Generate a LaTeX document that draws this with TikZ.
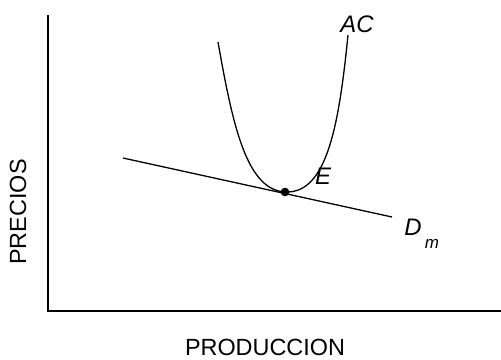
\documentclass[tikz,border=0pt]{standalone}
\usepackage{fontspec}
\setmainfont{Liberation Sans}
\begin{document}
\begin{tikzpicture}[x=1bp,y=-1bp,
  axis/.style={line width=1.6bp},
  curve/.style={line width=1.3bp},
  lbl/.style={inner sep=0pt,font=\fontsize{24}{27}\selectfont\itshape},
  axlbl/.style={inner sep=0pt,font=\fontsize{23.5}{27}\selectfont}]
\useasboundingbox (0,0) rectangle (501,359);
\coordinate (top) at (48,15);
\coordinate (orig) at (48,311);
\coordinate (xend) at (501,311);
\draw[axis] (top) -- (orig) -- (xend);
\coordinate (d1) at (123,158);
\coordinate (d2) at (392,217);
\draw[curve] (d1) -- (d2);
\coordinate (acl) at (218,42);
\coordinate (acmin) at (287,192);
\coordinate (acr) at (348,35);
\draw[curve] (acl) .. controls (233,127) and (247,192) .. (acmin)
  .. controls (327,192) and (339,125) .. (acr);
\fill (285,192) circle (4.3);
\node[lbl] (AC) at (357,24) {AC};
\node[lbl] (E) at (323,176) {E};
\node[lbl] (D) at (413,227) {D};
\node[inner sep=0pt,font=\fontsize{17}{20}\selectfont\itshape] (m) at (432,244) {m};
\node[axlbl,anchor=base,text depth=0pt] (xl) at (265,355.5) {PRODUCCION};
\node[axlbl,rotate=90] (yl) at (18,212) {PRECIOS};
\end{tikzpicture}
\end{document}
